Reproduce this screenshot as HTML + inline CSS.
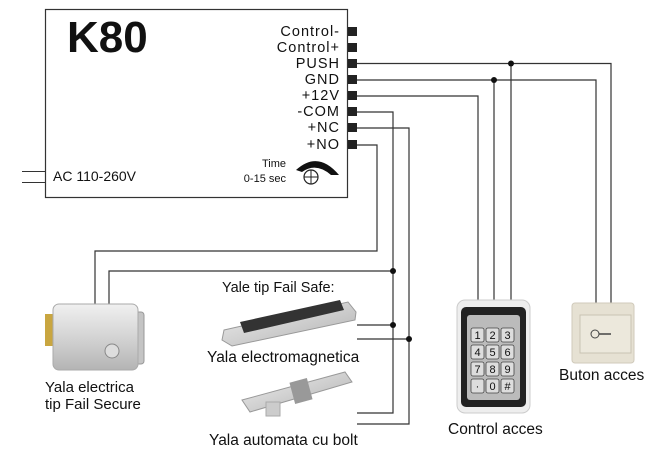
<!DOCTYPE html>
<html><head><meta charset="utf-8"><style>
html,body{margin:0;padding:0;background:#fff}
svg{display:block}
text{font-family:"Liberation Sans",sans-serif;fill:#111}
</style></head><body>
<svg width="651" height="454" viewBox="0 0 651 454" xmlns="http://www.w3.org/2000/svg">
<defs>
<linearGradient id="met" x1="0" y1="0" x2="0" y2="1"><stop offset="0" stop-color="#f0f0f0"/><stop offset="0.5" stop-color="#d4d4d4"/><stop offset="1" stop-color="#b4b4b4"/></linearGradient>
<linearGradient id="met2" x1="0" y1="0" x2="1" y2="1"><stop offset="0" stop-color="#f0f0f0"/><stop offset="1" stop-color="#b0b0b0"/></linearGradient>
</defs>
<rect x="45.5" y="9.5" width="302" height="188" fill="#fff" stroke="#333" stroke-width="1.2"/>
<text x="67" y="52" font-size="44" font-weight="bold">K80</text>
<g font-size="14.5" text-anchor="end" letter-spacing="1">
<text x="340" y="36">Control-</text>
<text x="340" y="52">Control+</text>
<text x="340" y="68">PUSH</text>
<text x="340" y="84">GND</text>
<text x="340" y="100">+12V</text>
<text x="340" y="116">-COM</text>
<text x="340" y="132">+NC</text>
<text x="340" y="149">+NO</text>
</g>
<g fill="#222">
<rect x="348" y="27" width="9" height="9"/><rect x="348" y="43" width="9" height="9"/>
<rect x="348" y="59" width="9" height="9"/><rect x="348" y="75" width="9" height="9"/>
<rect x="348" y="91" width="9" height="9"/><rect x="348" y="107" width="9" height="9"/>
<rect x="348" y="123" width="9" height="9"/><rect x="348" y="140" width="9" height="9"/>
</g>
<text x="53" y="181" font-size="14">AC 110-260V</text>
<line x1="22" y1="171.5" x2="45" y2="171.5" stroke="#333"/>
<line x1="22" y1="182.5" x2="45" y2="182.5" stroke="#333"/>
<text x="286" y="167" font-size="11" text-anchor="end">Time</text>
<text x="286" y="182" font-size="11" text-anchor="end">0-15 sec</text>
<path d="M296 170 Q318 150 339 175 L331 175 Q316 162 302 172 Z" fill="#111"/>
<circle cx="311" cy="177" r="7" fill="none" stroke="#222" stroke-width="1.2"/>
<line x1="304" y1="177" x2="318" y2="177" stroke="#222"/><line x1="311" y1="170" x2="311" y2="184" stroke="#222"/>
<g fill="none" stroke="#333" stroke-width="1.2">
<polyline points="357,63.5 611,63.5 611,322"/>
<line x1="511" y1="63.5" x2="511" y2="300"/>
<polyline points="357,80 596,80 596,322"/>
<line x1="494" y1="80" x2="494" y2="300"/>
<polyline points="357,96 478,96 478,300"/>
<polyline points="357,112 393,112 393,413 357,413"/>
<polyline points="393,271 109,271 109,310"/>
<line x1="393" y1="325" x2="357" y2="325"/>
<polyline points="357,128 409,128 409,424 357,424"/>
<line x1="409" y1="339" x2="357" y2="339"/>
<polyline points="357,145 377,145 377,251 95,251 95,310"/>
</g>
<g fill="#111">
<circle cx="511" cy="63.5" r="3"/><circle cx="494" cy="80" r="3"/>
<circle cx="393" cy="271" r="3"/><circle cx="393" cy="325" r="3"/><circle cx="409" cy="339" r="3"/>
</g>
<rect x="45" y="314" width="12" height="32" fill="#c9a640"/>
<rect x="130" y="312" width="14" height="52" rx="3" fill="#c4c4c4" stroke="#999"/>
<rect x="53" y="304" width="85" height="66" rx="6" fill="url(#met)" stroke="#aaa"/>
<circle cx="112" cy="351" r="7" fill="#ddd" stroke="#888"/>
<text x="45" y="392" font-size="15">Yala electrica</text>
<text x="45" y="409" font-size="15">tip Fail Secure</text>
<text x="222" y="292" font-size="14.5">Yale tip Fail Safe:</text>
<polygon points="224,330 348,302 356,312 355,320 232,346 222,340" fill="url(#met2)" stroke="#999"/>
<polygon points="240,322 340,300 344,310 244,333" fill="#333"/>
<text x="207" y="362" font-size="15.5">Yala electromagnetica</text>
<polygon points="242,400 345,372 352,382 250,412" fill="url(#met2)" stroke="#999"/>
<rect x="292" y="380" width="18" height="22" fill="#999" transform="rotate(-15 301 391)"/>
<rect x="266" y="402" width="14" height="14" fill="#ccc" stroke="#aaa"/>
<text x="209" y="445" font-size="15.5">Yala automata cu bolt</text>
<rect x="457" y="300" width="73" height="113" rx="8" fill="#eee" stroke="#ccc"/>
<rect x="461" y="307" width="65" height="100" rx="5" fill="#222"/>
<rect x="467" y="315" width="53" height="85" rx="3" fill="#bbb"/>
<g font-size="11" text-anchor="middle">
<g fill="#ddd" stroke="#444" stroke-width="0.8">
<rect x="471" y="328" width="13" height="14" rx="2"/><rect x="486" y="328" width="13" height="14" rx="2"/><rect x="501" y="328" width="13" height="14" rx="2"/>
<rect x="471" y="345" width="13" height="14" rx="2"/><rect x="486" y="345" width="13" height="14" rx="2"/><rect x="501" y="345" width="13" height="14" rx="2"/>
<rect x="471" y="362" width="13" height="14" rx="2"/><rect x="486" y="362" width="13" height="14" rx="2"/><rect x="501" y="362" width="13" height="14" rx="2"/>
<rect x="471" y="379" width="13" height="14" rx="2"/><rect x="486" y="379" width="13" height="14" rx="2"/><rect x="501" y="379" width="13" height="14" rx="2"/>
</g>
<text x="477.5" y="339">1</text><text x="492.5" y="339">2</text><text x="507.5" y="339">3</text>
<text x="477.5" y="356">4</text><text x="492.5" y="356">5</text><text x="507.5" y="356">6</text>
<text x="477.5" y="373">7</text><text x="492.5" y="373">8</text><text x="507.5" y="373">9</text>
<text x="477.5" y="390">·</text><text x="492.5" y="390">0</text><text x="507.5" y="390">#</text>
</g>
<text x="448" y="434" font-size="15.5">Control acces</text>
<rect x="572" y="303" width="62" height="60" rx="3" fill="#e6e1d3" stroke="#d0cabb"/>
<rect x="580" y="315" width="51" height="38" fill="#ece8dc" stroke="#c9c3b3"/>
<circle cx="595" cy="334" r="4" fill="none" stroke="#444"/>
<line x1="599" y1="334" x2="611" y2="334" stroke="#444" stroke-width="1.5"/>
<text x="559" y="380" font-size="15.5">Buton acces</text>
</svg>
</body></html>
